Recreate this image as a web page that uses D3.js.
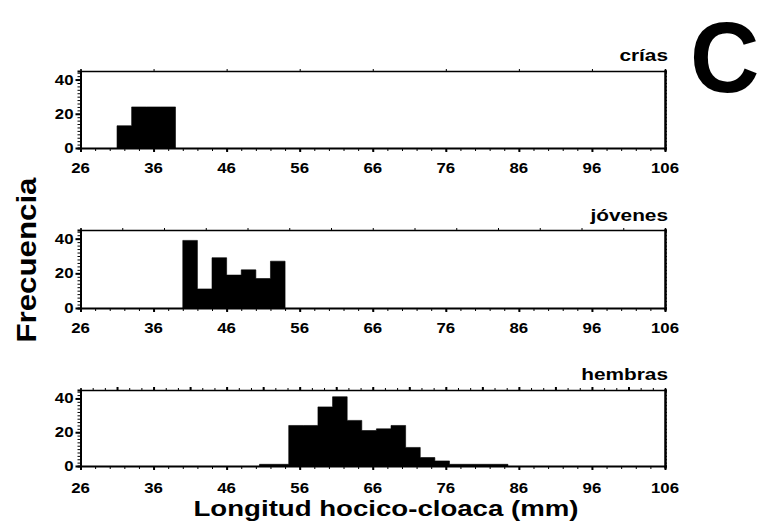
<!DOCTYPE html>
<html>
<head>
<meta charset="utf-8">
<script src="https://cdn.jsdelivr.net/npm/d3@7"></script>
<style>
  html, body { margin: 0; padding: 0; background: #fff; }
  svg text { font-family: "Liberation Sans", Arial, Helvetica, sans-serif; font-weight: bold; fill: #000; }
</style>
</head>
<body>
<svg id="chart" width="760" height="527"></svg>
<script>
// Snout-vent length histograms (2 mm bins), one panel per group
const xTickValues = [26, 36, 46, 56, 66, 76, 86, 96, 106];
const yTickValues = [0, 20, 40];
const panelNames = ["crías", "jóvenes", "hembras"];
const binWidth = 2;

const criasStart = [31, 33, 35, 37];
const criasCount = [13, 24, 24, 24];

const jovenesStart = [40, 42, 44, 46, 48, 50, 52];
const jovenesCount = [39, 11, 29, 19, 22, 17, 27];

const hembrasStart = [50.5, 52.5, 54.5, 56.5, 58.5, 60.5, 62.5, 64.5, 66.5, 68.5, 70.5, 72.5, 74.5, 76.5, 78.5, 80.5, 82.5];
const hembrasCount = [1, 1, 24, 24, 35, 41, 27, 21, 22, 24, 11, 5, 3, 1, 1, 1, 1];

const panels = [
  { name: panelNames[0], start: criasStart, count: criasCount, top: 71, bottom: 148, titleY: 61, labelY: 173, topTicks: d3.range(36, 97, 10), topMajor: [] },
  { name: panelNames[1], start: jovenesStart, count: jovenesCount, top: 230, bottom: 308, titleY: 221, labelY: 333, topTicks: d3.range(1, 14).map(k => 26 + k * 80 / 14), topMajor: [] },
  { name: panelNames[2], start: hembrasStart, count: hembrasCount, top: 390, bottom: 466, titleY: 380, labelY: 493, topTicks: d3.range(1, 48).map(k => 26 + k * 80 / 48), topMajor: d3.range(1, 16).map(k => 26 + k * 80 / 16) }
];

const svg = d3.select("#chart");
const x = d3.scaleLinear().domain([26, 106]).range([80.5, 665]);

// stretch a text element horizontally by a factor
function stretch(sel, factor) {
  sel.each(function () {
    const w = this.getComputedTextLength();
    d3.select(this).attr("textLength", w * factor).attr("lengthAdjust", "spacingAndGlyphs");
  });
}

panels.forEach(p => {
  const y = d3.scaleLinear().domain([0, 45]).range([p.bottom, p.top]);
  const g = svg.append("g");

  // histogram drawn as one stepped area so adjacent bins merge seamlessly
  const steps = p.start.map((s, i) => ({ x: s, n: p.count[i] }));
  steps.push({ x: p.start[p.start.length - 1] + binWidth, n: p.count[p.count.length - 1] });
  const area = d3.area()
    .x(d => x(d.x))
    .y0(y(0))
    .y1(d => y(d.n))
    .curve(d3.curveStepAfter);
  g.append("path")
    .datum(steps)
    .attr("d", area)
    .attr("fill", "#000")
    .attr("stroke", "#000")
    .attr("stroke-width", 0.6);

  // bottom axis: minor ticks every 2 mm, labels every 10
  const xAxis = d3.axisBottom(x).tickValues(d3.range(26, 107, 2)).tickSize(3).tickFormat("");
  g.append("g").attr("transform", `translate(0,${p.bottom})`).call(xAxis)
    .call(a => a.select(".domain").attr("stroke-width", 2));
  g.append("g").attr("transform", `translate(0,${p.bottom})`)
    .call(d3.axisBottom(x).tickValues(xTickValues).tickSize(4).tickFormat(""))
    .call(a => a.select(".domain").remove())
    .selectAll("line").attr("stroke-width", 2);
  const xl = g.selectAll("text.xl").data(xTickValues).enter().append("text")
    .attr("class", "xl")
    .attr("x", d => x(d))
    .attr("y", p.labelY)
    .attr("text-anchor", "middle")
    .attr("font-size", 14)
    .text(d => d);
  stretch(xl, 1.2);

  // top frame with its own ticks
  const xTop = d3.axisTop(x).tickValues(p.topTicks).tickSize(2).tickFormat("");
  g.append("g").attr("transform", `translate(0,${p.top})`).call(xTop)
    .call(a => a.select(".domain").attr("stroke-width", 1.6));
  if (p.topMajor.length) {
    g.append("g").attr("transform", `translate(0,${p.top})`)
      .call(d3.axisTop(x).tickValues(p.topMajor).tickSize(3).tickFormat(""))
      .call(a => a.select(".domain").remove())
      .selectAll("line").attr("stroke-width", 2);
  }

  // left axis
  const yAxis = d3.axisLeft(y).tickValues(d3.range(0, 45, 2)).tickSize(3).tickFormat("");
  g.append("g").attr("transform", `translate(${x(26)},0)`).call(yAxis)
    .call(a => a.select(".domain").attr("stroke-width", 2));
  g.append("g").attr("transform", `translate(${x(26)},0)`)
    .call(d3.axisLeft(y).tickValues(yTickValues).tickSize(5).tickFormat(""))
    .call(a => a.select(".domain").remove())
    .selectAll("line").attr("stroke-width", 2);
  const yl = g.selectAll("text.yl").data(yTickValues).enter().append("text")
    .attr("class", "yl")
    .attr("x", x(26) - 7)
    .attr("y", d => y(d) + 5)
    .attr("text-anchor", "end")
    .attr("font-size", 14)
    .text(d => d);
  stretch(yl, 1.2);

  // right frame
  const yRight = d3.axisRight(y).tickValues(d3.range(0, 45, 2)).tickSize(2).tickFormat("");
  g.append("g").attr("transform", `translate(${x(106)},0)`).call(yRight)
    .call(a => a.select(".domain").attr("stroke-width", 2.5));

  // group name
  const t = g.append("text")
    .attr("x", 668)
    .attr("y", p.titleY)
    .attr("text-anchor", "end")
    .attr("font-size", 16)
    .text(p.name);
  stretch(t, 1.3);
});

// axis titles
svg.append("text")
  .attr("x", 386)
  .attr("y", 516)
  .attr("text-anchor", "middle")
  .attr("font-size", 22)
  .attr("textLength", 385)
  .attr("lengthAdjust", "spacingAndGlyphs")
  .text("Longitud hocico-cloaca (mm)");

svg.append("text")
  .attr("transform", "translate(36,260) rotate(-90)")
  .attr("text-anchor", "middle")
  .attr("font-size", 27)
  .attr("textLength", 165)
  .attr("lengthAdjust", "spacingAndGlyphs")
  .text("Frecuencia");

// panel letter
svg.append("text")
  .attr("transform", "translate(690,92) scale(1,1.05)")
  .attr("font-size", 96)
  .text("C");
</script>
</body>
</html>
